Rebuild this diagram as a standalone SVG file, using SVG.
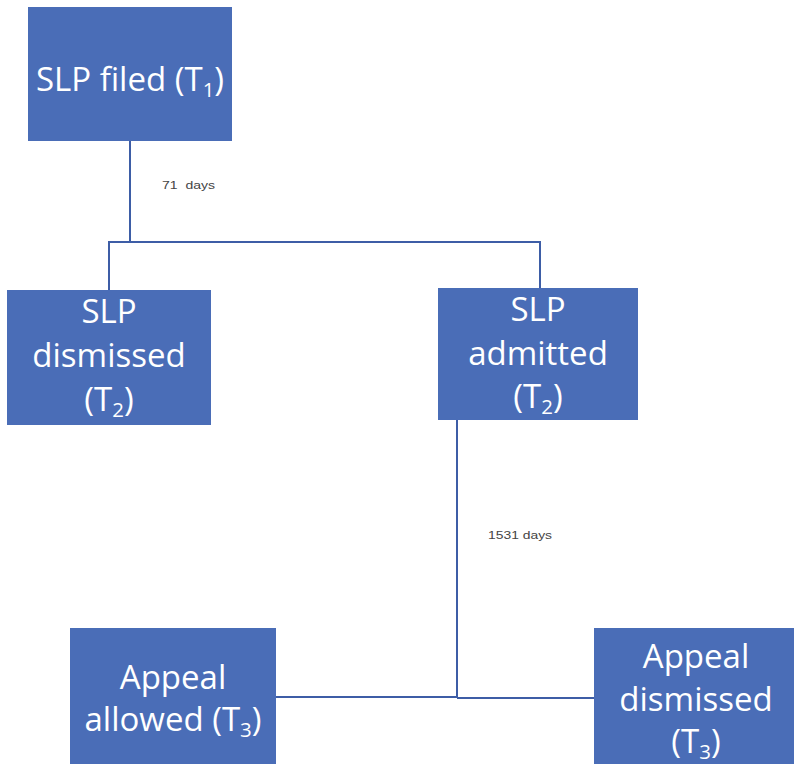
<svg xmlns="http://www.w3.org/2000/svg" width="794" height="764" viewBox="0 0 794 764">
<style>
.box{fill:#4a6db7}
.t{fill:#fff;font-family:"Open Sans","Liberation Sans",sans-serif;font-size:33px;text-anchor:middle}
.s{font-size:0.62em}
.c{fill:none;stroke:#3d5da6;stroke-width:2}
.lbl{fill:#444;font-family:"Liberation Sans",Arial,sans-serif;font-size:11px}
</style>
<rect width="794" height="764" fill="#fff"/>
<g id="connectors">
<path class="c" d="M130,141 V242 M109,290 V242 H540 V289"/>
<path class="c" d="M457,420 V698 M276,697 H457 M457,698 H594"/>
<text class="lbl" x="162" y="189" textLength="53" lengthAdjust="spacingAndGlyphs" xml:space="preserve">71  days</text>
<text class="lbl" x="488" y="539" textLength="64" lengthAdjust="spacingAndGlyphs">1531 days</text>
</g>
<g id="slp-filed">
<rect class="box" x="28" y="7" width="204" height="134"/>
<text class="t" x="130" y="91">SLP filed (T<tspan class="s" dy="6">1</tspan><tspan dy="-6">)</tspan></text>
</g>
<g id="slp-dismissed">
<rect class="box" x="7" y="290" width="204" height="135"/>
<text class="t" x="109" y="323">SLP</text>
<text class="t" x="109" y="367">dismissed</text>
<text class="t" x="109" y="411">(T<tspan class="s" dy="6">2</tspan><tspan dy="-6">)</tspan></text>
</g>
<g id="slp-admitted">
<rect class="box" x="438" y="288" width="200" height="132"/>
<text class="t" x="538" y="321">SLP</text>
<text class="t" x="538" y="365">admitted</text>
<text class="t" x="538" y="408">(T<tspan class="s" dy="6">2</tspan><tspan dy="-6">)</tspan></text>
</g>
<g id="appeal-allowed">
<rect class="box" x="70" y="628" width="206" height="136"/>
<text class="t" x="173" y="689">Appeal</text>
<text class="t" x="173" y="731">allowed (T<tspan class="s" dy="6">3</tspan><tspan dy="-6">)</tspan></text>
</g>
<g id="appeal-dismissed">
<rect class="box" x="594" y="628" width="200" height="136"/>
<text class="t" x="696" y="668">Appeal</text>
<text class="t" x="696" y="711">dismissed</text>
<text class="t" x="696" y="753">(T<tspan class="s" dy="6">3</tspan><tspan dy="-6">)</tspan></text>
</g>
</svg>
